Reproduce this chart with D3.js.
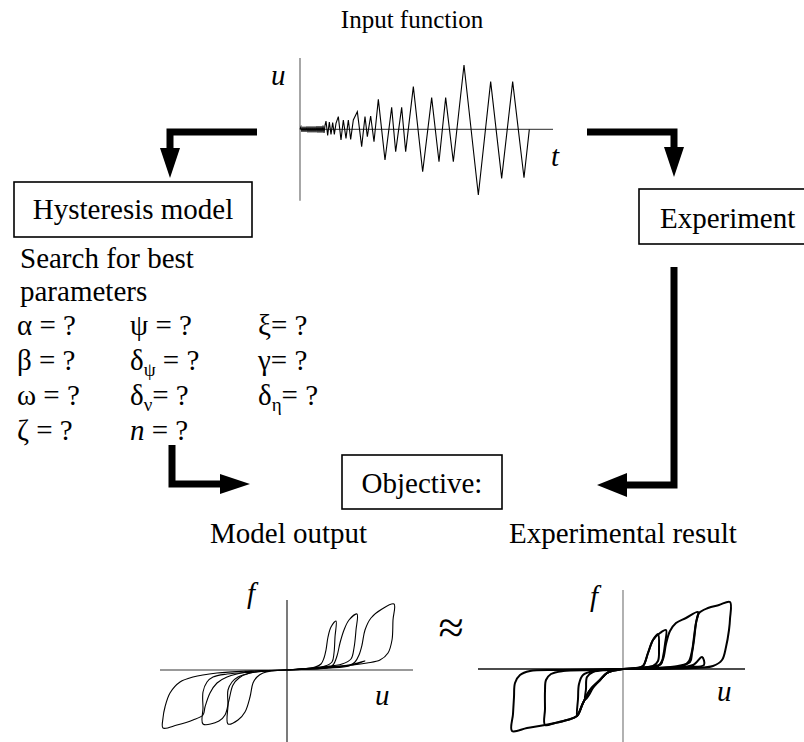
<!DOCTYPE html>
<html><head><meta charset="utf-8">
<script src="https://cdn.jsdelivr.net/npm/d3@7"></script>
<style>
html,body{margin:0;padding:0;background:#fff;}
text{font-family:"Liberation Serif","Times New Roman",serif;fill:#000;}
</style></head>
<body><svg id="c" width="804" height="742"></svg>
<script>
// ---------- data ----------
// input signal (time, displacement)
const sigT = [0,3,6,9,12,15,18,21,24,27,30,33,36,39,42,45,48,51,54,57,60,63,66,69,72,75,
  78,83,88,93,98,103,108,115,123,130,138,145,152,160,172,185,195,202,212,222,235,255,275,287,305,317,340,368,395,417,437,460,492,535,572,605,638,672,688];
const sigU = [0,8,-8,8,-8,8,-8,9,-9,9,-9,9,-9,9,-9,9,-9,10,-10,10,-10,10,-10,11,-11,12,
  25,-18,22,-15,20,-15,18,38,-32,28,-27,28,-30,28,53,-52,38,-22,40,-37,90,-92,66,-67,66,-67,128,-127,95,-97,95,-97,193,-197,143,-147,143,-145,0];

// model output hysteresis loops [u, f]
const modelPos1 = [[0,0],[15,1],[28,3],[34,6],[37,12],[39,20],[41,33],[44,43],[49,49],[48,33],[47,17],[45,8],[38,4],[25,2],[10,1],[0,0]];
const modelPos2 = [[0,0],[25,1],[40,2],[46,5],[50,14],[53,27],[57,40],[62,50],[70,56],[69,40],[67,22],[64,11],[55,6],[35,3],[15,1],[0,0]];
const modelBand = [[0,0],[40,2],[65,5],[78,9],[62,5],[30,2],[0,0]];
const modelPos3 = [[0,0],[40,2],[62,4],[68,8],[72,15],[75,25],[78,40],[84,52],[95,61],[107,66],[106,50],[105,30],[101,17],[93,10],[80,7],[66,5],[40,3],[0,0]];
const modelNeg1 = [[0,0],[-15,-1],[-24,-3],[-30,-7],[-34,-13],[-37,-27],[-42,-42],[-49,-50],[-59,-54],[-59,-35],[-59,-20],[-55,-12],[-49,-7],[-37,-3],[-20,-1],[0,0]];
const modelNeg2 = [[0,0],[-37,-3],[-48,-8],[-54,-15],[-58,-30],[-62,-45],[-68,-51],[-84,-54],[-84,-38],[-84,-22],[-80,-12],[-74,-7],[-60,-4],[-35,-2],[0,0]];
const modelNeg3 = [[0,0],[-40,-2],[-60,-7],[-70,-13],[-77,-23],[-82,-37],[-84,-45],[-94,-50],[-110,-55],[-124,-58],[-124,-48],[-122,-37],[-117,-23],[-107,-12],[-94,-7],[-70,-3],[-40,-1],[0,0]];

// experimental hysteresis loops [u, f]
const expPos1 = [[0,0],[12,1],[20,3],[25,16],[30,29],[35,35],[36,20],[35,8],[30,3],[15,1],[0,0]];
const expPos2 = [[0,0],[15,1],[20,3],[25,16],[30,29],[37,36],[43,39],[42,25],[40,12],[38,5],[25,2],[0,0]];
const expPos3 = [[0,0],[25,1],[35,3],[40,10],[43,25],[47,38],[53,46],[63,51],[75,57],[73,46],[71,29],[69,16],[67,7],[55,3],[30,1],[0,0]];
const expPos4 = [[0,0],[40,1],[60,3],[66,8],[69,18],[71,32],[73,46],[76,56],[85,61],[96,64],[107,67],[107,50],[106,39],[103,22],[99,9],[90,3],[70,1],[0,0]];
const expSpike = [[0,0],[50,1],[70,4],[79,12],[81,4],[65,2],[0,0]];
const expNeg1 = [[0,0],[-10,-1],[-16,-4],[-23,-11],[-30,-19],[-34,-26],[-38,-31],[-37,-20],[-36,-8],[-30,-3],[-15,-1],[0,0]];
const expNeg2 = [[0,0],[-10,-1],[-16,-4],[-23,-11],[-33,-21],[-40,-34],[-46,-47],[-45,-30],[-44,-15],[-40,-6],[-28,-2],[0,0]];
const expNeg3 = [[0,0],[-16,-4],[-23,-11],[-33,-21],[-40,-34],[-46,-47],[-56,-51],[-68,-54],[-78,-56],[-78,-40],[-78,-22],[-77,-11],[-72,-5],[-60,-2],[-30,-1],[0,0]];
const expNeg4 = [[0,0],[-16,-4],[-23,-11],[-33,-21],[-40,-34],[-46,-47],[-56,-51],[-78,-56],[-96,-59],[-111,-62],[-110,-45],[-109,-28],[-108,-14],[-103,-6],[-93,-2],[-60,-1],[0,0]];

// texts
const titleText = "Input function";
const boxLabels = ["Hysteresis model", "Experiment", "Objective:"];
const searchLines = ["Search for best", "parameters"];
const paramSym = [["α","ψ","ξ"],["β","δ","γ"],["ω","δ","δ"],["ζ","n",null]];
const paramSub = [[null,null,null],[null,"ψ",null],[null,"ν","η"],[null,null,null]];
const paramEq  = [[" = ?"," = ?","= ?"],[" = ?"," = ?","= ?"],[" = ?","= ?","= ?"],[" = ?"," = ?",null]];
const outLabels = ["Model output", "Experimental result"];

// ---------- drawing ----------
const svg = d3.select("#c");
const FS = 29;

// title
svg.append("text").attr("x",412).attr("y",28).attr("text-anchor","middle")
  .style("font-size","25px").text(titleText);

// input signal
const xS = d3.scaleLinear().domain([0,759]).range([300,553]);
const yS = d3.scaleLinear().domain([-214,214]).range([200.7,58]);
svg.append("line").attr("x1",xS(0)).attr("x2",xS(0)).attr("y1",yS(214)).attr("y2",yS(-214))
  .attr("stroke","#777").attr("stroke-width",1.3);
svg.append("line").attr("x1",xS(0)).attr("x2",xS(759)).attr("y1",yS(0)).attr("y2",yS(0))
  .attr("stroke","#555").attr("stroke-width",1.2);
const sig = sigT.map((t,i)=>[t,sigU[i]]);
svg.append("path").datum(sig)
  .attr("d", d3.line().x(d=>xS(d[0])).y(d=>yS(d[1])))
  .attr("fill","none").attr("stroke","#000").attr("stroke-width",1.1);
svg.append("text").attr("x",271).attr("y",85).style("font-size",FS+"px").style("font-style","italic").text("u");
svg.append("text").attr("x",551).attr("y",166).style("font-size",FS+"px").style("font-style","italic").text("t");

// arrows
function arrow(pts, tip, dir, hl, hw){
  svg.append("path").attr("d", d3.line()(pts)).attr("fill","none")
    .attr("stroke","#000").attr("stroke-width",7).attr("stroke-linejoin","miter");
  let tri;
  if(dir==="down") tri=[[tip[0]-hw,tip[1]-hl],[tip[0]+hw,tip[1]-hl],tip];
  if(dir==="right") tri=[[tip[0]-hl,tip[1]-hw],[tip[0]-hl,tip[1]+hw],tip];
  if(dir==="left") tri=[[tip[0]+hl,tip[1]-hw],[tip[0]+hl,tip[1]+hw],tip];
  svg.append("path").attr("d", d3.line()(tri)+"Z").attr("fill","#000");
}
arrow([[257,132],[170,132],[170,150]],[170,178],"down",30,10);
arrow([[587,132],[674,132],[674,150]],[674,177],"down",30,10);
arrow([[674,267],[674,485],[625,485]],[597,485],"left",30,12);
arrow([[172,445],[172,484],[222,484]],[250,484],"right",30,10);

// boxes
function box(x,y,w,h,label,tx,anchor,ty){
  svg.append("rect").attr("x",x).attr("y",y).attr("width",w).attr("height",h)
    .attr("fill","none").attr("stroke","#000").attr("stroke-width",1.6);
  svg.append("text").attr("x",tx).attr("y",ty).attr("text-anchor",anchor)
    .style("font-size",FS+"px").text(label);
}
box(14,182,238,55,boxLabels[0],133,"middle",219);
box(639,189,170,55,boxLabels[1],660,"start",228);
box(342,455,160,54,boxLabels[2],422,"middle",493);

// search text
searchLines.forEach((s,i)=>{
  svg.append("text").attr("x",20).attr("y",268+i*33).style("font-size",FS+"px").text(s);
});

// parameters
const colX = [17,130,258];
const rowY = [335,370,405,440];
paramSym.forEach((row,r)=>{
  row.forEach((sym,c)=>{
    if(sym===null) return;
    const t = svg.append("text").attr("x",colX[c]).attr("y",rowY[r]).style("font-size",FS+"px");
    const s = t.append("tspan").text(sym);
    if(sym==="n") s.style("font-style","italic");
    if(paramSub[r][c]){
      t.append("tspan").attr("dy",6).style("font-size","19px").text(paramSub[r][c]);
      t.append("tspan").attr("dy",-6).text(paramEq[r][c]);
    } else {
      t.append("tspan").text(paramEq[r][c]);
    }
  });
});

// output labels
svg.append("text").attr("x",210).attr("y",543).style("font-size",FS+"px").text(outLabels[0]);
svg.append("text").attr("x",509).attr("y",543).style("font-size",FS+"px").text(outLabels[1]);

// approx symbol
svg.append("text").attr("x",451).attr("y",643).attr("text-anchor","middle")
  .style("font-size","46px").text("≈");

// hysteresis plots
function loopPlot(xs, ys, loops, sw, vTop, vCol, hCol){
  svg.append("line").attr("x1",xs(0)).attr("x2",xs(0)).attr("y1",vTop).attr("y2",742)
    .attr("stroke",vCol).attr("stroke-width",1.3);
  svg.append("line").attr("x1",xs.range()[0]).attr("x2",xs.range()[1]).attr("y1",ys(0)).attr("y2",ys(0))
    .attr("stroke",hCol).attr("stroke-width",1.3);
  const ln = d3.line().x(d=>xs(d[0])).y(d=>ys(d[1])).curve(d3.curveCatmullRom.alpha(0.5));
  loops.forEach(L=>{
    svg.append("path").datum(L).attr("d",ln).attr("fill","none")
      .attr("stroke","#000").attr("stroke-width",sw).attr("stroke-linejoin","round");
  });
}
const mX = d3.scaleLinear().domain([-127,126]).range([160,413]);
const mY = d3.scaleLinear().domain([-72,70]).range([742,600]);
loopPlot(mX,mY,[modelPos1,modelPos2,modelBand,modelPos3,modelNeg1,modelNeg2,modelNeg3],1.1,600,"#333","#777");
const eX = d3.scaleLinear().domain([-145,122]).range([478,745]);
const eY = d3.scaleLinear().domain([-73,79]).range([742,590]);
loopPlot(eX,eY,[expPos1,expPos2,expPos3,expPos4,expSpike,expNeg1,expNeg2,expNeg3,expNeg4],2,590,"#888","#111");

svg.append("text").attr("x",247).attr("y",603).style("font-size",FS+"px").style("font-style","italic").text("f");
svg.append("text").attr("x",375).attr("y",705).style("font-size",FS+"px").style("font-style","italic").text("u");
svg.append("text").attr("x",590).attr("y",606).style("font-size",FS+"px").style("font-style","italic").text("f");
svg.append("text").attr("x",717).attr("y",701).style("font-size",FS+"px").style("font-style","italic").text("u");
</script></body></html>
